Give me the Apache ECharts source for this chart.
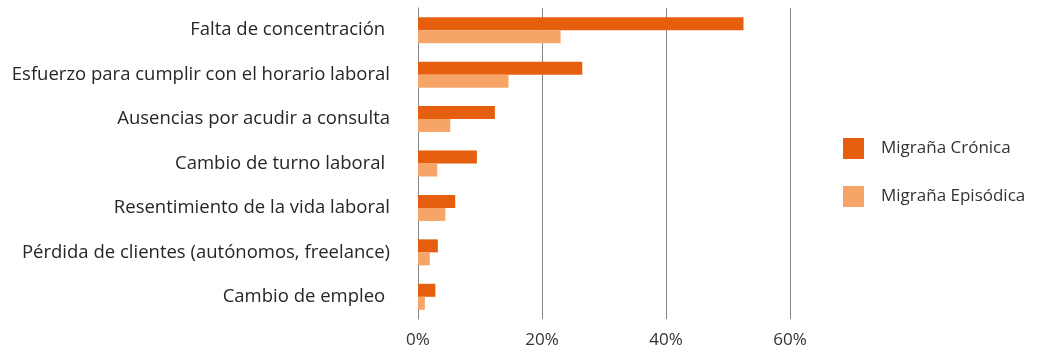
<!DOCTYPE html>
<html>
<head>
<meta charset="utf-8">
<script src="https://cdn.jsdelivr.net/npm/echarts@6/dist/echarts.min.js"></script>
<style>html,body{margin:0;padding:0;background:#fff}#c{width:1044px;height:354px}</style>
</head>
<body>
<div id="c"></div>
<script>
const categories = [
  "Falta de concentración ",
  "Esfuerzo para cumplir con el horario laboral",
  "Ausencias por acudir a consulta",
  "Cambio de turno laboral ",
  "Resentimiento de la vida laboral",
  "Pérdida de clientes (autónomos, freelance)",
  "Cambio de empleo "
];
const seriesNames = ["Migraña Crónica", "Migraña Episódica"];
const chronic = [52.5, 26.5, 12.4, 9.5, 6.0, 3.2, 2.8];
const episodic = [23.0, 14.6, 5.2, 3.1, 4.4, 1.9, 1.1];
const xTicks = [0, 20, 40, 60];

const FONT = "Open Sans";
const chart = echarts.init(document.getElementById('c'), null, {renderer: 'canvas'});
chart.setOption({
  animation: false,
  backgroundColor: '#fff',
  textStyle: {fontFamily: FONT},
  grid: {left: 418, top: 8, width: 372, height: 311, containLabel: false},
  legend: {
    orient: 'vertical', left: 838, top: 133,
    itemWidth: 21, itemHeight: 21, itemGap: 27,
    icon: 'rect',
    textStyle: {fontSize: 17, color: '#333', fontFamily: FONT, padding: [0, 0, 0, 12]},
    data: seriesNames
  },
  xAxis: {
    type: 'value', min: xTicks[0], max: xTicks[xTicks.length - 1], interval: 20,
    axisLine: {show: false}, axisTick: {show: false},
    splitLine: {show: true, lineStyle: {color: '#868686', width: 1}},
    axisLabel: {fontSize: 17, color: '#333', margin: 13, formatter: v => v + '%'}
  },
  yAxis: {
    type: 'category', inverse: true, data: categories,
    axisLine: {show: true, lineStyle: {color: '#868686', width: 1}},
    axisTick: {show: false},
    axisLabel: {fontSize: 18.5, color: '#262626', margin: 28, padding: [5, 0, 0, 0]}
  },
  series: [
    {name: seriesNames[0], type: 'bar', data: chronic, barWidth: 13, barGap: '0%',
     itemStyle: {color: '#E65F0E'}},
    {name: seriesNames[1], type: 'bar', data: episodic, barWidth: 13, barGap: '0%',
     itemStyle: {color: '#F6A468'}}
  ]
});
</script>
</body>
</html>
